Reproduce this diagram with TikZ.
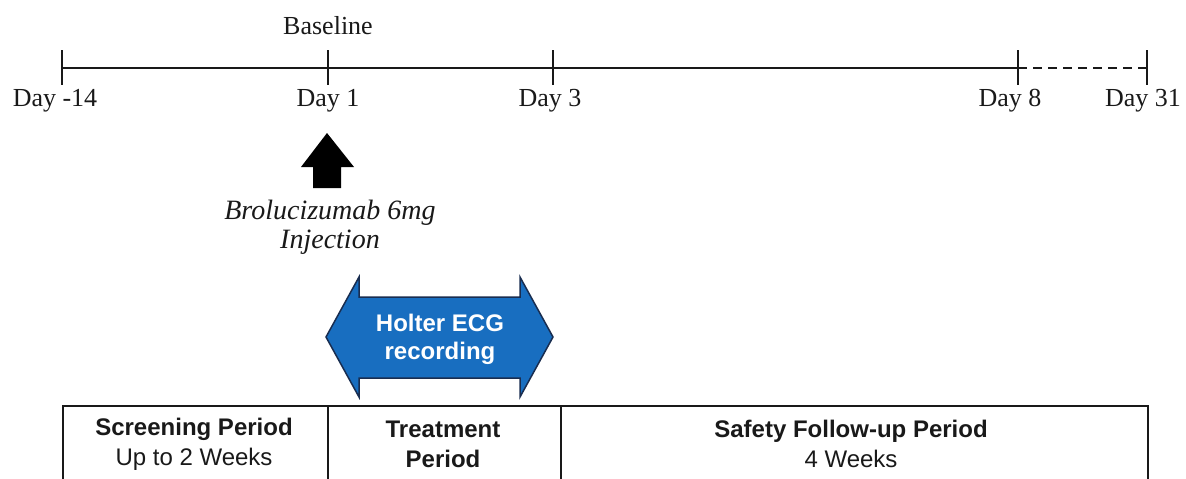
\documentclass[tikz,border=0pt]{standalone}
\usepackage{fontspec}
\setmainfont{Liberation Serif}
\setsansfont{Liberation Sans}
\definecolor{holterblue}{RGB}{24,110,192}
\definecolor{holteredge}{RGB}{25,45,80}
\definecolor{ink}{RGB}{25,25,25}
\begin{document}
\begin{tikzpicture}[x=1pt,y=-1pt,
  axis/.style={line width=2.8pt,draw=ink},
  tickmark/.style={line width=2.8pt,draw=ink},
  daylabel/.style={font=\fontsize{26}{28}\selectfont,text=ink,inner sep=0pt},
  injlabel/.style={font=\fontsize{28}{29}\selectfont\itshape,text=ink,align=center,inner sep=0pt},
  holter/.style={fill=holterblue,draw=holteredge,line width=1.5pt,line join=miter},
  holtertext/.style={font=\sffamily\bfseries\fontsize{24}{28}\selectfont,text=white,align=center,inner sep=0pt},
  periodbox/.style={draw=ink,line width=1.6pt,inner sep=0pt,anchor=north west,minimum height=90pt},
  periodtext/.style={font=\sffamily\fontsize{24}{30}\selectfont,text=ink,align=center,inner sep=0pt}
]
\useasboundingbox (0,0) rectangle (1186,479);
% timeline
\coordinate (t0) at (62,68);
\coordinate (t1) at (328,68);
\coordinate (t3) at (553,68);
\coordinate (t8) at (1018,68);
\coordinate (t31) at (1147,68);
\draw[axis] (t0) -- (t8);
\draw[line width=1.8pt,draw=ink,dash pattern=on 9pt off 6pt] (t8) -- (t31);
\foreach \c in {t0,t1,t3,t8,t31}
  \draw[tickmark] ([yshift=18pt]\c) -- ([yshift=-17pt]\c);
\node[daylabel] (base) at (328,26) {Baseline};
\node[daylabel] (d0) at (55,101) {Day -14};
\node[daylabel] (d1) at (328,101) {Day 1};
\node[daylabel] (d3) at (550,101) {Day 3};
\node[daylabel] (d8) at (1010,101) {Day 8};
\node[daylabel] (d31) at (1143,101) {Day 31};
% injection arrow
\fill[black] (327,133) -- (354,167) -- (341,167) -- (341,188) -- (313,188) -- (313,167) -- (301,167) -- cycle;
\node[injlabel] (inj) at (330,227) {Brolucizumab 6mg\\Injection};
% Holter arrow
\draw[holter] (326,337) -- (359,277) -- (359,297) -- (520,297) -- (520,277) -- (553,337)
  -- (520,397) -- (520,378) -- (359,378) -- (359,397) -- cycle;
\node[holtertext] (holterlbl) at (440,339) {Holter ECG\\recording};
% period boxes
\node[periodbox,minimum width=265pt] (scr) at (62,405) {};
\node[periodbox,minimum width=233pt] (trt) at (327,405) {};
\node[periodbox,minimum width=587pt] (saf) at (560,405) {};
\node[periodtext] (scrt) at (194,444) {\textbf{Screening Period}\\Up to 2 Weeks};
\node[periodtext] (trtt) at (443,444) {\textbf{Treatment}\\\textbf{Period}};
\node[periodtext] (saft) at (851,444) {\textbf{Safety Follow-up Period}\\4 Weeks};
\end{tikzpicture}
\end{document}
